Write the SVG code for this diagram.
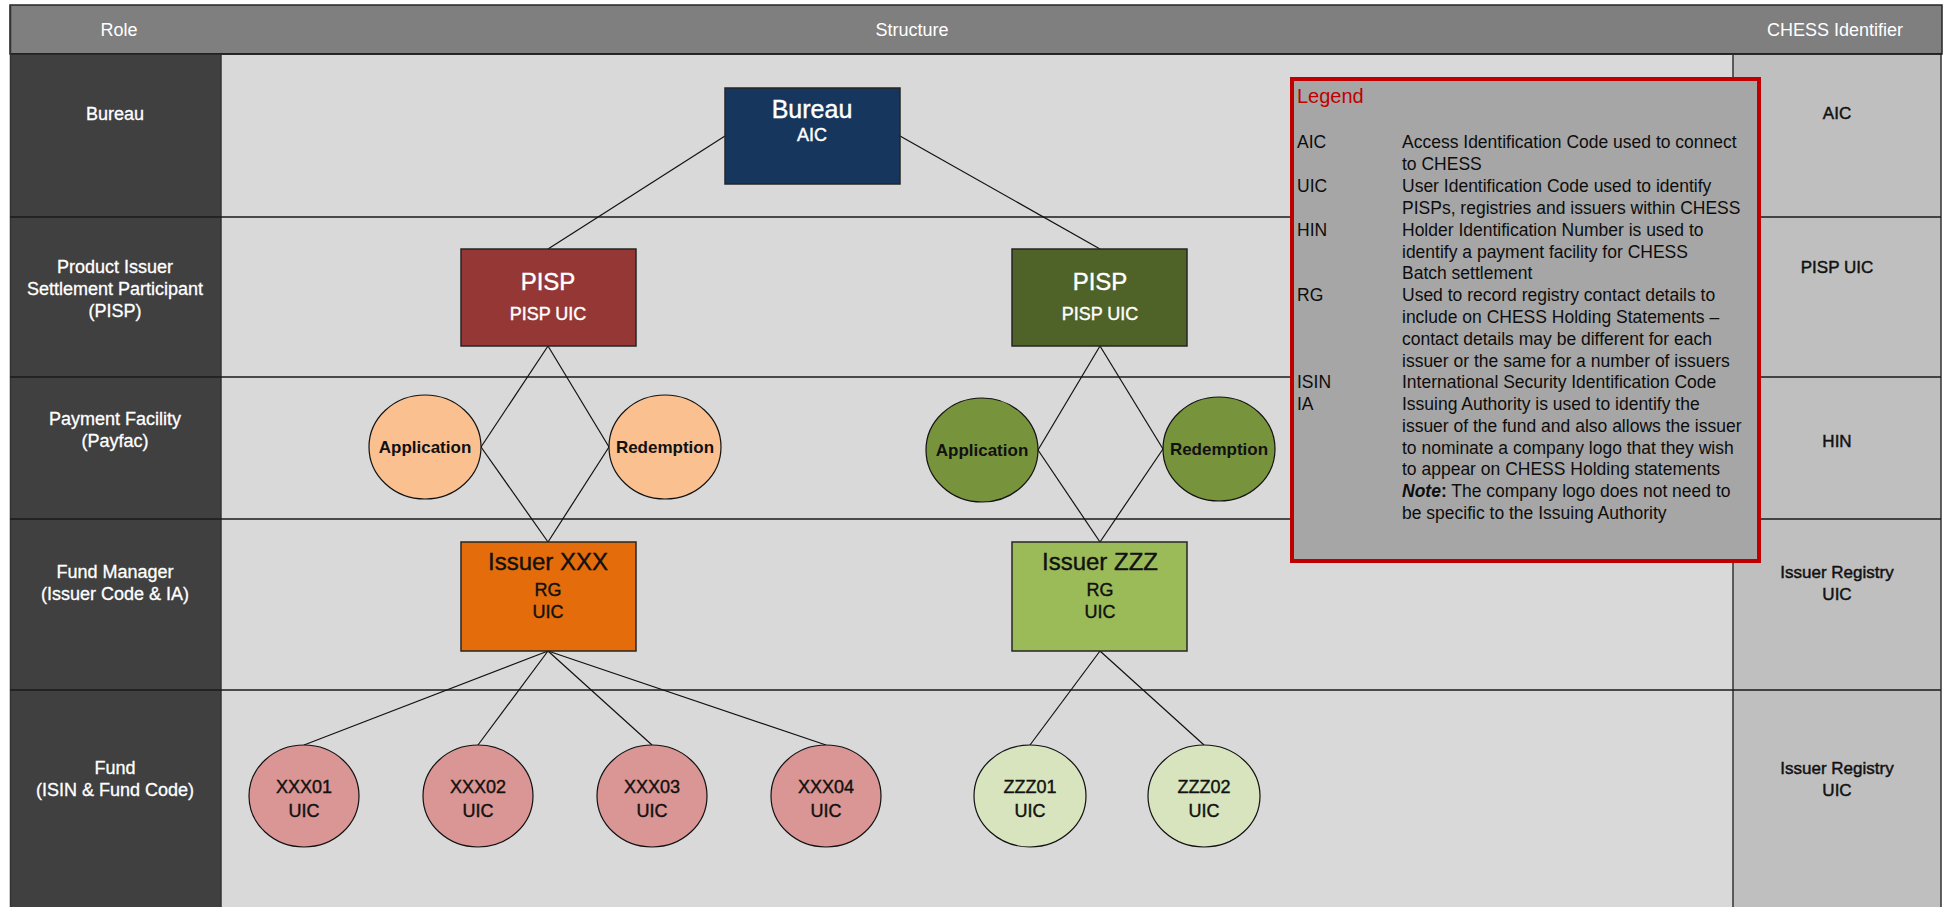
<svg xmlns="http://www.w3.org/2000/svg" width="1944" height="907" viewBox="0 0 1944 907">
<defs>
<style>
text{font-family:"Liberation Sans",Arial,sans-serif;}
.hdr{fill:#ffffff;font-size:18px;text-anchor:middle;}
.role{fill:#ffffff;font-size:18px;text-anchor:middle;stroke:#ffffff;stroke-width:0.3;}
.chess{fill:#111111;font-size:17px;text-anchor:middle;stroke:#111111;stroke-width:0.45;}
.grid{stroke:#1a1a1a;stroke-width:1.5;fill:none;}
.col{stroke:#333333;stroke-width:1.5;fill:none;}
.conn line{stroke:#111111;stroke-width:1.2;}
.box{stroke:#262626;stroke-width:1.5;}
.circ{stroke:#111111;stroke-width:1.2;}
.t24{font-size:24px;text-anchor:middle;stroke-width:0.4;}
.t18{font-size:18px;text-anchor:middle;stroke-width:0.4;}
.dk{fill:#111111;stroke:#111111;}
.wt{fill:#ffffff;stroke:#ffffff;}
.t17b{font-size:17px;font-weight:bold;text-anchor:middle;fill:#111111;}
.lg{font-size:17.5px;fill:#0d0d0d;}
</style>
</defs>

<!-- background panels -->
<g id="background">
<rect x="10" y="5" width="1932" height="49" fill="#7f7f7f" stroke="#262626" stroke-width="1.5"/>
<rect x="10" y="55" width="211" height="852" fill="#404040"/>
<rect x="221" y="55" width="1512" height="852" fill="#d9d9d9"/>
<rect x="1733" y="55" width="208" height="852" fill="#bfbfbf"/>
<line class="grid" x1="10" y1="54" x2="1942" y2="54"/>
<line class="col" x1="10.5" y1="5" x2="10.5" y2="907"/>
<line class="col" x1="221" y1="55" x2="221" y2="907"/>
<line class="col" x1="1733" y1="55" x2="1733" y2="907"/>
<line class="col" x1="1941" y1="55" x2="1941" y2="907"/>
<line class="grid" x1="10" y1="217" x2="1941" y2="217"/>
<line class="grid" x1="10" y1="377" x2="1941" y2="377"/>
<line class="grid" x1="10" y1="519" x2="1941" y2="519"/>
<line class="grid" x1="10" y1="690" x2="1941" y2="690"/>
</g>

<!-- header -->
<g id="header">
<text class="hdr" x="119" y="36">Role</text>
<text class="hdr" x="912" y="36">Structure</text>
<text class="hdr" x="1835" y="36">CHESS Identifier</text>
</g>

<!-- role labels -->
<g id="roles">
<text class="role" x="115" y="120">Bureau</text>
<text class="role" x="115" y="273">Product Issuer</text>
<text class="role" x="115" y="295">Settlement Participant</text>
<text class="role" x="115" y="317">(PISP)</text>
<text class="role" x="115" y="425">Payment Facility</text>
<text class="role" x="115" y="447">(Payfac)</text>
<text class="role" x="115" y="578">Fund Manager</text>
<text class="role" x="115" y="600">(Issuer Code &amp; IA)</text>
<text class="role" x="115" y="774">Fund</text>
<text class="role" x="115" y="796">(ISIN &amp; Fund Code)</text>
</g>

<!-- CHESS identifiers -->
<g id="chess-ids">
<text class="chess" x="1837" y="119">AIC</text>
<text class="chess" x="1837" y="273">PISP UIC</text>
<text class="chess" x="1837" y="447">HIN</text>
<text class="chess" x="1837" y="578">Issuer Registry</text>
<text class="chess" x="1837" y="600">UIC</text>
<text class="chess" x="1837" y="774">Issuer Registry</text>
<text class="chess" x="1837" y="796">UIC</text>
</g>

<!-- connectors -->
<g id="connectors" class="conn">
<line x1="725" y1="136" x2="548" y2="249"/>
<line x1="900" y1="136" x2="1100" y2="249"/>
<line x1="548" y1="346" x2="481" y2="447"/>
<line x1="548" y1="346" x2="609" y2="447"/>
<line x1="481" y1="447" x2="548" y2="542"/>
<line x1="609" y1="447" x2="548" y2="542"/>
<line x1="1100" y1="346" x2="1038" y2="450"/>
<line x1="1100" y1="346" x2="1163" y2="449"/>
<line x1="1038" y1="450" x2="1100" y2="542"/>
<line x1="1163" y1="449" x2="1100" y2="542"/>
<line x1="548" y1="651" x2="304" y2="745"/>
<line x1="548" y1="651" x2="478" y2="745"/>
<line x1="548" y1="651" x2="652" y2="745"/>
<line x1="548" y1="651" x2="826" y2="745"/>
<line x1="1100" y1="651" x2="1030" y2="745"/>
<line x1="1100" y1="651" x2="1204" y2="745"/>
</g>

<!-- nodes -->
<g id="bureau">
<rect class="box" x="725" y="88" width="175" height="96" fill="#17365d"/>
<text class="t24 wt" x="812" y="118" style="font-size:25px">Bureau</text>
<text class="t18 wt" x="812" y="141">AIC</text>
</g>

<g id="pisp-red">
<rect class="box" x="461" y="249" width="175" height="97" fill="#953735"/>
<text class="t24 wt" x="548" y="290">PISP</text>
<text class="t18 wt" x="548" y="320">PISP UIC</text>
</g>

<g id="pisp-green">
<rect class="box" x="1012" y="249" width="175" height="97" fill="#4f6228"/>
<text class="t24 wt" x="1100" y="290">PISP</text>
<text class="t18 wt" x="1100" y="320">PISP UIC</text>
</g>

<g id="application-xxx">
<ellipse class="circ" cx="425" cy="447" rx="56" ry="52" fill="#fac090"/>
<text class="t17b" x="425" y="453">Application</text>
</g>
<g id="redemption-xxx">
<ellipse class="circ" cx="665" cy="447" rx="56" ry="52" fill="#fac090"/>
<text class="t17b" x="665" y="453">Redemption</text>
</g>
<g id="application-zzz">
<ellipse class="circ" cx="982" cy="450" rx="56" ry="52" fill="#77933c"/>
<text class="t17b" x="982" y="456">Application</text>
</g>
<g id="redemption-zzz">
<ellipse class="circ" cx="1219" cy="449" rx="56" ry="52" fill="#77933c"/>
<text class="t17b" x="1219" y="455">Redemption</text>
</g>

<g id="issuer-xxx">
<rect class="box" x="461" y="542" width="175" height="109" fill="#e46c0a"/>
<text class="t24 dk" x="548" y="570">Issuer XXX</text>
<text class="t18 dk" x="548" y="596">RG</text>
<text class="t18 dk" x="548" y="618">UIC</text>
</g>

<g id="issuer-zzz">
<rect class="box" x="1012" y="542" width="175" height="109" fill="#9bbb59"/>
<text class="t24 dk" x="1100" y="570">Issuer ZZZ</text>
<text class="t18 dk" x="1100" y="596">RG</text>
<text class="t18 dk" x="1100" y="618">UIC</text>
</g>

<g id="fund-xxx01">
<ellipse class="circ" cx="304" cy="796" rx="55" ry="51" fill="#d99694"/>
<text class="t18 dk" x="304" y="793">XXX01</text>
<text class="t18 dk" x="304" y="817">UIC</text>
</g>
<g id="fund-xxx02">
<ellipse class="circ" cx="478" cy="796" rx="55" ry="51" fill="#d99694"/>
<text class="t18 dk" x="478" y="793">XXX02</text>
<text class="t18 dk" x="478" y="817">UIC</text>
</g>
<g id="fund-xxx03">
<ellipse class="circ" cx="652" cy="796" rx="55" ry="51" fill="#d99694"/>
<text class="t18 dk" x="652" y="793">XXX03</text>
<text class="t18 dk" x="652" y="817">UIC</text>
</g>
<g id="fund-xxx04">
<ellipse class="circ" cx="826" cy="796" rx="55" ry="51" fill="#d99694"/>
<text class="t18 dk" x="826" y="793">XXX04</text>
<text class="t18 dk" x="826" y="817">UIC</text>
</g>
<g id="fund-zzz01">
<ellipse class="circ" cx="1030" cy="796" rx="56" ry="51" fill="#d7e4bd"/>
<text class="t18 dk" x="1030" y="793">ZZZ01</text>
<text class="t18 dk" x="1030" y="817">UIC</text>
</g>
<g id="fund-zzz02">
<ellipse class="circ" cx="1204" cy="796" rx="56" ry="51" fill="#d7e4bd"/>
<text class="t18 dk" x="1204" y="793">ZZZ02</text>
<text class="t18 dk" x="1204" y="817">UIC</text>
</g>

<!-- legend -->
<g id="legend">
<rect x="1292" y="79" width="467" height="482" fill="#a6a6a6" stroke="#c00000" stroke-width="4"/>
<text x="1297" y="103" style="font-size:20px" fill="#c00000">Legend</text>
<text class="lg" x="1297" y="148">AIC</text>
<text class="lg" x="1402" y="148">Access Identification Code used to connect</text>
<text class="lg" x="1402" y="170">to CHESS</text>
<text class="lg" x="1297" y="192">UIC</text>
<text class="lg" x="1402" y="192">User Identification Code used to identify</text>
<text class="lg" x="1402" y="214">PISPs, registries and issuers within CHESS</text>
<text class="lg" x="1297" y="236">HIN</text>
<text class="lg" x="1402" y="236">Holder Identification Number is used to</text>
<text class="lg" x="1402" y="258">identify a payment facility for CHESS</text>
<text class="lg" x="1402" y="279">Batch settlement</text>
<text class="lg" x="1297" y="301">RG</text>
<text class="lg" x="1402" y="301">Used to record registry contact details to</text>
<text class="lg" x="1402" y="323">include on CHESS Holding Statements –</text>
<text class="lg" x="1402" y="345">contact details may be different for each</text>
<text class="lg" x="1402" y="367">issuer or the same for a number of issuers</text>
<text class="lg" x="1297" y="388">ISIN</text>
<text class="lg" x="1402" y="388">International Security Identification Code</text>
<text class="lg" x="1297" y="410">IA</text>
<text class="lg" x="1402" y="410">Issuing Authority is used to identify the</text>
<text class="lg" x="1402" y="432">issuer of the fund and also allows the issuer</text>
<text class="lg" x="1402" y="454">to nominate a company logo that they  wish</text>
<text class="lg" x="1402" y="475">to appear on CHESS Holding statements</text>
<text class="lg" x="1402" y="497"><tspan font-weight="bold" font-style="italic">Note</tspan><tspan font-weight="bold">:</tspan> The company logo does not need to</text>
<text class="lg" x="1402" y="519">be specific to the Issuing Authority</text>
</g>
</svg>
